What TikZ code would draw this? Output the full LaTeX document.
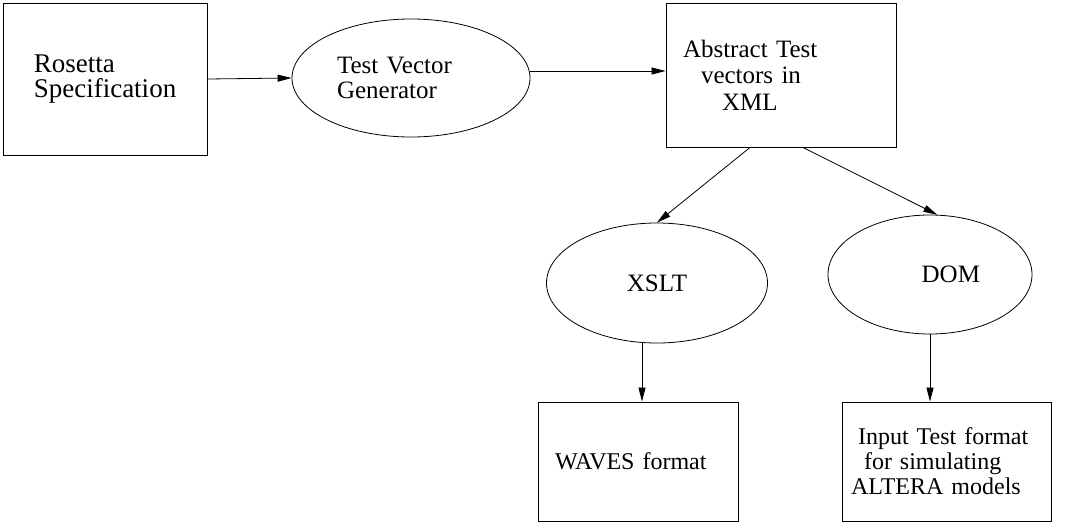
\documentclass[tikz,border=0pt]{standalone}
\usepackage{fontspec}
\setmainfont{Liberation Serif}
\usetikzlibrary{shapes.geometric,arrows.meta}
\tikzset{
	blk/.style={draw, rectangle, line width=0.9pt, inner sep=0pt},
	oval/.style={draw, ellipse, line width=0.8pt, inner sep=0pt},
	txt/.style={font=\fontsize{25}{24.5}\selectfont},
	arr/.style={-{Triangle[length=14pt,width=7pt]}, line width=0.8pt}
}

\begin{document}
\begin{tikzpicture}[x=1pt,y=-1pt]
	\useasboundingbox (0,0) rectangle (1086,524);
	\node[blk, font=\fontsize{27}{24.5}\selectfont, align=left, minimum width=204pt, minimum height=152pt] (spec) at (105,79) {Rosetta\\Specification};
	\node[oval, txt, align=left, text width=148pt, minimum width=238pt, minimum height=118pt] (tvg) at (411,78) {Test Vector\\Generator};
	\node[blk, txt, font=\fontsize{25}{26.5}\selectfont, align=left, text width=196pt, minimum width=230pt, minimum height=144pt] (abs) at (781,75) {Abstract Test\\\hspace*{18pt}vectors in\\\hspace*{39pt}XML};
	\node[oval, txt, minimum width=221pt, minimum height=120pt] (xslt) at (657,283) {XSLT};
	\node[oval, txt, align=right, text width=100pt, minimum width=204pt, minimum height=119pt] (dom) at (930,274.5) {DOM};
	\node[blk, txt, font=\fontsize{24}{25}\selectfont, align=left, text width=166pt, minimum width=200pt, minimum height=119pt] (wav) at (638,461.5) {WAVES format};
	\node[blk, txt, font=\fontsize{24}{25}\selectfont, align=left, text width=191pt, minimum width=209pt, minimum height=119pt] (inp) at (946.5,461.5) {\hspace*{7pt}Input Test format\\\hspace*{13pt}for simulating\\ALTERA models};
	\draw[arr] (spec.east) -- (tvg.west);
	\draw[arr] ([yshift=7pt]tvg.east) -- ([yshift=7pt]tvg.east -| abs.west);
	\draw[arr] ([xshift=-31pt]abs.south) -- (xslt.north);
	\draw[arr] ([xshift=22pt]abs.south) -- (dom.83);
	\draw[arr] ([xshift=4pt]wav.north |- xslt.south) -- ([xshift=4pt]wav.north);
	\draw[arr] (dom.south) -- (dom.south |- inp.north);
\end{tikzpicture}
\end{document}
